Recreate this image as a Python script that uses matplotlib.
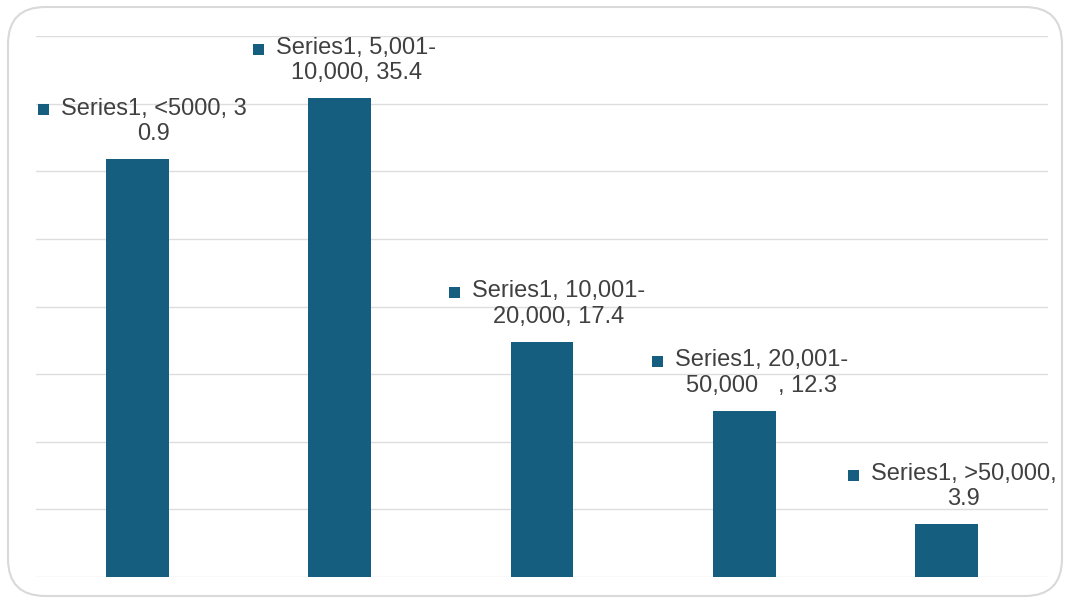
import matplotlib
matplotlib.use("Agg")
import matplotlib.pyplot as plt
from matplotlib.patches import FancyBboxPatch, Rectangle

categories = ["<5000", "5,001-\n10,000", "10,001-\n20,000", "20,001-\n50,000  ", ">50,000"]
values = [30.9, 35.4, 17.4, 12.3, 3.9]
series_name = "Series1"
label_texts = [
    "Series1, <5000, 3\n0.9",
    "Series1, 5,001-\n10,000, 35.4",
    "Series1, 10,001-\n20,000, 17.4",
    "Series1, 20,001-\n50,000   , 12.3",
    "Series1, >50,000,\n3.9",
]

BAR = "#165E80"
GRID = "#DDDDDD"
TXT = "#404040"
FS = 17

plt.rcParams['font.family'] = ['Liberation Sans', 'DejaVu Sans']

W, H = 1067, 601
fig = plt.figure(figsize=(W / 100, H / 100), dpi=100)

frame = FancyBboxPatch((8 / W, 5 / H), (1062 - 8) / W, (594 - 5) / H,
                       boxstyle="round,pad=0,rounding_size=0.035",
                       transform=fig.transFigure, facecolor="white",
                       edgecolor="#D9D9D9", linewidth=1.5, mutation_aspect=W / H,
                       zorder=-10)
fig.patches.append(frame)

ax = fig.add_axes([36 / W, (H - 577) / H, (1048 - 36) / W, (577 - 36) / H])
ax.set_zorder(1)
ax.set_facecolor("none")
x = list(range(len(values)))
ax.bar(x, values, width=0.31, color=BAR, zorder=3)
ax.set_xlim(-0.5, len(values) - 0.5)
ax.set_ylim(0, 40)
ax.set_yticks(range(0, 41, 5))
ax.yaxis.grid(True, color=GRID, linewidth=1.0, zorder=0)
ax.set_axisbelow(True)
ax.tick_params(left=False, bottom=False, labelleft=False, labelbottom=False)
for s in ax.spines.values():
    s.set_visible(False)

texts = []
for xi, v, lab in zip(x, values, label_texts):
    t = ax.annotate(lab, xy=(xi, v), xytext=(12, 10), textcoords="offset points",
                    ha="center", va="bottom", multialignment="center",
                    fontsize=FS, color=TXT, linespacing=1.2, zorder=4,
                    annotation_clip=False)
    texts.append(t)

fig.canvas.draw()
r = fig.canvas.get_renderer()
for t in texts:
    bb = t.get_window_extent(r)
    line1 = t.get_text().split("\n")[0]
    tmp = fig.text(0, 0, line1, fontsize=FS)
    lb = tmp.get_window_extent(r)
    tmp.remove()
    lh = lb.height
    size = 11
    cx = bb.x0 - 12 - size
    cy = bb.y1 - lh * 0.55 - size / 2
    fig.patches.append(Rectangle((cx / W, cy / H), size / W, size / H,
                                 transform=fig.transFigure, facecolor=BAR,
                                 edgecolor="none", zorder=5))

fig.savefig("out.png", dpi=100)
